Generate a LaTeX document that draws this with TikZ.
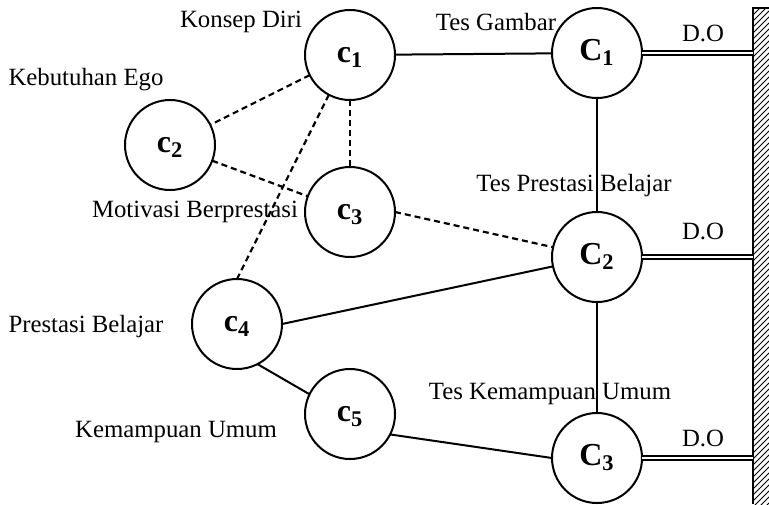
\documentclass[tikz,border=0pt]{standalone}
\usepackage{fontspec}
\setmainfont{Liberation Serif}
\usetikzlibrary{patterns}
\tikzset{
  var/.style={draw,circle,line width=1pt,minimum size=45pt,inner sep=0pt,outer sep=0pt,
    text height=7.5pt,text depth=0pt,font=\fontsize{16}{18}\selectfont\bfseries},
  lbl/.style={font=\fontsize{12.4}{15}\selectfont},
  rel/.style={line width=1pt},
  cor/.style={line width=1.1pt,dash pattern=on 3pt off 2pt},
  fix/.style={double,line width=0.9pt,double distance=0.8pt},
}
\begin{document}
\begin{tikzpicture}[x=0.5pt,y=-0.5pt]
        \useasboundingbox (0,0) rectangle (769,504);
        % wall
        \fill[pattern=north east lines] (753,8) rectangle (769,504);
        \draw[line width=1pt] (769,8) -- (753,8) -- (753,504);
        \coordinate (W1) at (753,53);
        \coordinate (W2) at (753,257);
        \coordinate (W3) at (753,458);
        % latent factors
        \node[var] (c1) at (350,55) {c\textsubscript{1}};
        \node[var] (c2) at (170,145) {c\textsubscript{2}};
        \node[var] (c3) at (350,212) {c\textsubscript{3}};
        \node[var] (c4) at (237,324) {c\textsubscript{4}};
        \node[var] (c5) at (350,414) {c\textsubscript{5}};
        \node[var] (T1) at (597,53) {C\textsubscript{1}};
        \node[var] (T2) at (597,257) {C\textsubscript{2}};
        \node[var] (T3) at (597,458) {C\textsubscript{3}};
        % labels
        \node[lbl] (Lc1) at (241,22) {Konsep Diri};
        \node[lbl] (Lc2) at (86,80) {Kebutuhan Ego};
        \node[lbl] (Lc3) at (195,212) {Motivasi Berprestasi};
        \node[lbl] (Lc4) at (86,327) {Prestasi Belajar};
        \node[lbl] (Lc5) at (176,432) {Kemampuan Umum};
        \node[lbl] (LT1) at (496,22) {Tes Gambar};
        \node[lbl] (LT2) at (574,186) {Tes Prestasi Belajar};
        \node[lbl] (LT3) at (550,394) {Tes Kemampuan Umum};
        \node[lbl] (D1) at (703,33) {D.O};
        \node[lbl] (D2) at (703,231) {D.O};
        \node[lbl] (D3) at (703,438) {D.O};
        % links
        \path (c1) edge [cor] (c2);
        \path (c1) edge [cor] (c3);
        \path (c1.-118) edge [cor] (c4.north);
        \path (c2) edge [cor] (c3);
        \path (c3.east) edge [cor] (T2);
        \path (c1) edge [rel] (T1);
        \path (c4.east) edge [rel] (T2);
        \path (c4.-63) edge [rel] (c5.154);
        \path (c5.-27) edge [rel] (T3.west);
        \path (T1) edge [rel] (T2);
        \path (T2) edge [rel] (T3);
        \path (T1.east) edge [fix] (W1);
        \path (T2.east) edge [fix] (W2);
        \path (T3.east) edge [fix] (W3);
\end{tikzpicture}
\end{document}
